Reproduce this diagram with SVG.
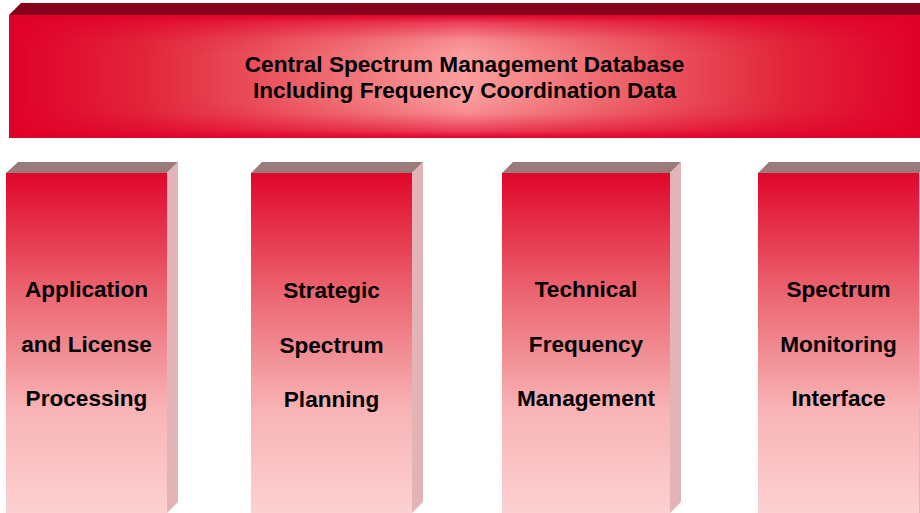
<svg xmlns="http://www.w3.org/2000/svg" width="920" height="513" viewBox="0 0 920 513">
<defs>
<linearGradient id="barH" x1="0" y1="0" x2="1" y2="0">
<stop offset="0" stop-color="#E0002A"/>
<stop offset="0.15" stop-color="#E2263A"/>
<stop offset="0.35" stop-color="#EE6A70"/>
<stop offset="0.5" stop-color="#FB9E9E"/>
<stop offset="0.65" stop-color="#EE6A70"/>
<stop offset="0.85" stop-color="#E2263A"/>
<stop offset="1" stop-color="#E0002A"/>
</linearGradient>
<linearGradient id="barV" x1="0" y1="0" x2="0" y2="1">
<stop offset="0" stop-color="#E0002A" stop-opacity="1"/>
<stop offset="0.06" stop-color="#E0002A" stop-opacity="0.6"/>
<stop offset="0.2" stop-color="#E0002A" stop-opacity="0.12"/>
<stop offset="0.32" stop-color="#E0002A" stop-opacity="0"/>
<stop offset="0.68" stop-color="#E0002A" stop-opacity="0"/>
<stop offset="0.8" stop-color="#E0002A" stop-opacity="0.12"/>
<stop offset="0.94" stop-color="#E0002A" stop-opacity="0.6"/>
<stop offset="1" stop-color="#E0002A" stop-opacity="1"/>
</linearGradient>
<linearGradient id="pillar" x1="0" y1="0" x2="0" y2="1">
<stop offset="0" stop-color="#E0062A"/>
<stop offset="0.35" stop-color="#EB6470"/>
<stop offset="0.7" stop-color="#F8B4B6"/>
<stop offset="1" stop-color="#FDD0D1"/>
</linearGradient>
</defs>
<style>
.topface{fill:#9A7B7B}
.side{fill:#E2B4B6}
.front{fill:url(#pillar)}
.lbl{font-family:"Liberation Sans",Arial,sans-serif;font-weight:bold;font-size:22.6px;fill:#000;text-anchor:middle}
</style>
<g id="database">
<polygon points="9,15 21,3 920,3 920,15" fill="#870019"/>
<rect x="9" y="15" width="911" height="123" fill="url(#barH)"/>
<rect x="9" y="15" width="911" height="123" fill="url(#barV)"/>
<text class="lbl" x="464.5" y="72">Central Spectrum Management Database</text>
<text class="lbl" x="464.5" y="98">Including Frequency Coordination Data</text>
</g>
<g id="application">
<polygon class="topface" points="6,173 18,162 178,162 167,173"/>
<polygon class="side" points="167,173 178,162 178,502 167,513"/>
<rect class="front" x="6" y="173" width="161" height="340"/>
<text class="lbl" x="86.5" y="297">Application</text>
<text class="lbl" x="86.5" y="352">and License</text>
<text class="lbl" x="86.5" y="406">Processing</text>
</g>
<g id="strategic">
<polygon class="topface" points="251,173 262,162 423,162 412,173"/>
<polygon class="side" points="412,173 423,162 423,502 412,513"/>
<rect class="front" x="251" y="173" width="161" height="340"/>
<text class="lbl" x="331.5" y="298">Strategic</text>
<text class="lbl" x="331.5" y="353">Spectrum</text>
<text class="lbl" x="331.5" y="407">Planning</text>
</g>
<g id="technical">
<polygon class="topface" points="502,173 513,162 681,162 670,173"/>
<polygon class="side" points="670,173 681,162 681,502 670,513"/>
<rect class="front" x="502" y="173" width="168" height="340"/>
<text class="lbl" x="586" y="297">Technical</text>
<text class="lbl" x="586" y="352">Frequency</text>
<text class="lbl" x="586" y="406">Management</text>
</g>
<g id="monitoring">
<polygon class="topface" points="758,173 769,162 920,162 920,173"/>
<polygon class="side" points="919,173 920,172 920,513 919,513"/>
<rect class="front" x="758" y="173" width="161" height="340"/>
<text class="lbl" x="838.5" y="297">Spectrum</text>
<text class="lbl" x="838.5" y="352">Monitoring</text>
<text class="lbl" x="838.5" y="406">Interface</text>
</g>
<g id="connectors"/>
</svg>
